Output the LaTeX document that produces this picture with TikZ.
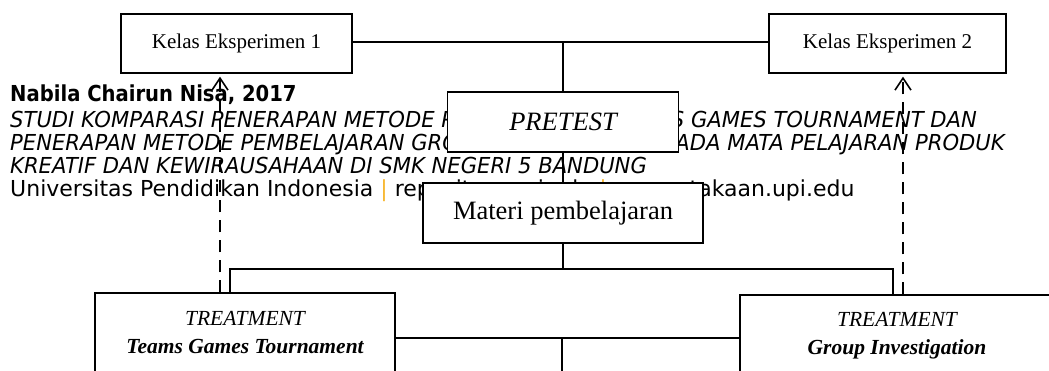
\documentclass[tikz,border=0pt]{standalone}
\usepackage{fontspec}
\setmainfont{Liberation Serif}
\newfontfamily\wmfont{DejaVu Sans}[ItalicFeatures={FakeStretch=0.96}, BoldFeatures={FakeStretch=0.89}]
\usetikzlibrary{arrows.meta}
\definecolor{upigold}{RGB}{247,182,45}

\tikzset{
  box/.style={draw, line width=1.4pt, fill=white, inner sep=0pt, align=center},
  link/.style={line width=1.3pt},
  backarrow/.style={line width=1.6pt, dash pattern=on 12pt off 8pt,
    -{Straight Barb[length=12pt,width=16pt]}, shorten >=3pt},
  wm/.style={anchor=base west, inner sep=0pt, font=\wmfont\fontsize{22}{23}\selectfont}
}

\begin{document}
\begin{tikzpicture}[x=1pt,y=-1pt]
  \useasboundingbox (0,0) rectangle (1049,371);
  \clip (0,0) rectangle (1049,371);
  % footer text of the page
  \node[wm] (author) at (10,102) {\bfseries Nabila Chairun Nisa, 2017};
  \node[wm] (title1) at (10,128) {\itshape STUDI KOMPARASI PENERAPAN METODE PEMBELAJARAN TEAMS GAMES TOURNAMENT DAN};
  \node[wm] (title2) at (10,151) {\itshape PENERAPAN METODE PEMBELAJARAN GROUP INVESTIGATION PADA MATA PELAJARAN PRODUK};
  \node[wm] (title3) at (10,174) {\itshape KREATIF DAN KEWIRAUSAHAAN DI SMK NEGERI 5 BANDUNG};
  \node[wm] (univ) at (10,197) {Universitas Pendidikan Indonesia {\color{upigold}|} repository.upi.edu {\color{upigold}|} perpustakaan.upi.edu};
  % boxes
  \node[box, minimum width=231, minimum height=59, font=\fontsize{21}{25}\selectfont] (ke1) at (236.5,43.5) {Kelas Eksperimen 1};
  \node[box, minimum width=237, minimum height=59, font=\fontsize{21}{25}\selectfont] (ke2) at (887.5,43.5) {Kelas Eksperimen 2};
  \node[box, minimum width=231, minimum height=60, font=\fontsize{26.5}{30}\selectfont\itshape] (pre) at (563,122) {PRETEST};
  \node[box, minimum width=280, minimum height=60, font=\fontsize{26.5}{30}\selectfont] (mat) at (563,213) {Materi pembelajaran};
  \node[box, minimum width=300, minimum height=80, font=\fontsize{21.5}{28}\selectfont] (tgt) at (245,333)
    {\itshape TREATMENT\\ \bfseries\itshape Teams Games Tournament};
  \node[box, minimum width=314, minimum height=82, font=\fontsize{21.5}{28}\selectfont] (gi) at (897,336)
    {\itshape TREATMENT\\ \bfseries\itshape Group Investigation};
  % connectors
  \coordinate (top) at (563,42);
  \coordinate (split) at (563,269);
  \coordinate (low) at (562,338);
  \coordinate (next) at (562,380);
  \draw[link] (ke1.east |- top) -- (ke2.west |- top);
  \draw[link] (top) -- (pre);
  \draw[link] (pre) -- (mat);
  \draw[link] (mat) -- (split);
  \draw[link] (tgt.north -| 230,0) |- (split) -| (gi.north -| 893,0);
  \draw[link] (tgt.east |- low) -- (gi.west |- low);
  \draw[link] (low) -- (next);
  \draw[backarrow] (tgt.north -| 220,0) -- (ke1.south -| 220,0);
  \draw[backarrow] (gi.north -| 903,0) -- (ke2.south -| 903,0);
\end{tikzpicture}
\end{document}
